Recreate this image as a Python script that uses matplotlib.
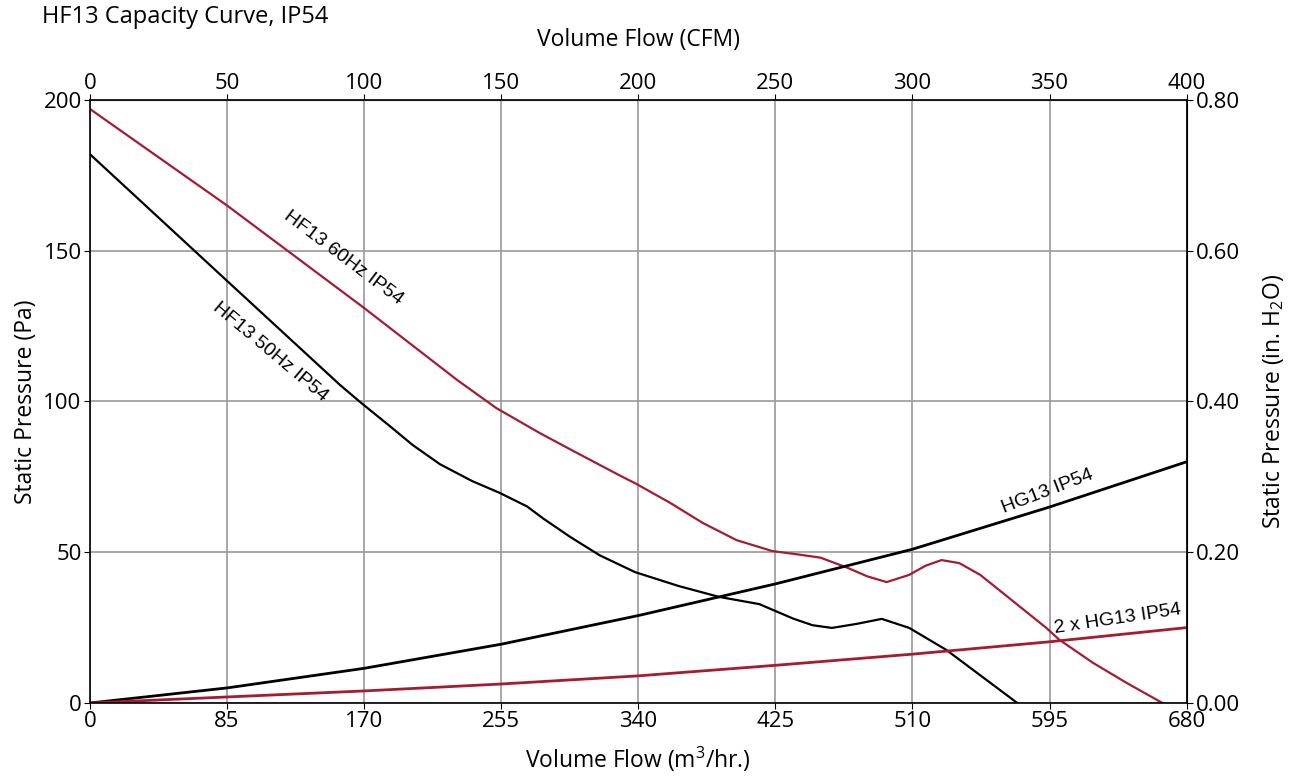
import matplotlib.pyplot as plt
import numpy as np

plt.rcParams['font.family'] = ['Open Sans', 'DejaVu Sans']
plt.rcParams['mathtext.fontset'] = 'custom'
plt.rcParams['mathtext.rm'] = 'Open Sans'
plt.rcParams['mathtext.it'] = 'Open Sans'

# volume flow (m3/hr) vs static pressure (Pa)
hz60_x = [0, 85, 170, 228, 252, 279, 300, 328, 339, 360, 380, 401, 423, 440, 453, 469, 482, 494, 508, 518, 528, 539, 552, 566, 593, 601, 622, 643, 665]
hz60_y = [197, 165, 131, 107, 97.8, 89.5, 83.5, 75.6, 72.6, 66.3, 59.7, 54, 50.4, 49.2, 48.2, 45, 42, 40.1, 42.5, 45.5, 47.4, 46.4, 42.5, 36.5, 24.9, 21, 13.3, 6.6, 0]

hz50_x = [0, 85, 155, 168, 186, 200, 217, 237, 254, 271, 281, 298, 316, 338, 365, 390, 415, 436, 448, 460, 475, 491, 508, 531, 553, 575]
hz50_y = [182, 140, 105.5, 99.6, 91.8, 85.6, 79.2, 73.6, 69.7, 65.2, 61.2, 55, 49, 43.4, 38.8, 35.2, 32.8, 28, 25.8, 24.9, 26.2, 27.9, 24.9, 17.6, 8.8, 0]

sys_x = [0, 85, 170, 255, 340, 425, 510, 595, 680]
hg13_y = [0, 5, 11.5, 19.5, 29, 39.5, 51, 65, 80]
hg13x2_y = [0, 2, 4, 6.3, 9, 12.5, 16.2, 20.3, 25]

xticks = [0, 85, 170, 255, 340, 425, 510, 595, 680]
yticks = [0, 50, 100, 150, 200]
cfm_ticks = [0, 50, 100, 150, 200, 250, 300, 350, 400]
inh2o_ticks = [0.0, 0.2, 0.4, 0.6, 0.8]

red = '#A51C30'

fig = plt.figure(figsize=(13.04, 7.78), dpi=100)
ax = fig.add_axes([0.069, 0.0964, 0.841, 0.7751])

ax.plot(hz60_x, hz60_y, color=red, lw=1.6, solid_joinstyle='round')
ax.plot(hz50_x, hz50_y, color='black', lw=1.6, solid_joinstyle='round')
ax.plot(sys_x, hg13_y, color='black', lw=2)
ax.plot(sys_x, hg13x2_y, color=red, lw=2)

ax.set_xlim(0, 680)
ax.set_ylim(0, 200)
ax.set_xticks(xticks)
ax.set_yticks(yticks)
ax.grid(True, color='#9a9a9a', lw=1.2)
ax.set_axisbelow(True)
ax.tick_params(direction='out', length=4, labelsize=16, colors='black', pad=2)
for s in ax.spines.values():
    s.set_color('black')
    s.set_linewidth(1.2)

ax.set_xlabel('Volume Flow (m$^3$/hr.)', fontsize=16.5, labelpad=9)
ax.set_ylabel('Static Pressure (Pa)', fontsize=16.5, labelpad=4)

top = ax.secondary_xaxis('top', functions=(lambda v: v / 1.7, lambda v: v * 1.7))
top.set_xticks(cfm_ticks)
top.tick_params(direction='out', length=4, labelsize=16, pad=0)
top.set_xlabel('Volume Flow (CFM)', fontsize=16.5, labelpad=20)

right = ax.secondary_yaxis('right', functions=(lambda v: v / 250, lambda v: v * 250))
right.set_yticks(inh2o_ticks)
right.set_yticklabels(['%.2f' % t for t in inh2o_ticks])
right.tick_params(direction='out', length=4, labelsize=16, pad=3)
right.set_ylabel('Static Pressure (in. H$_2$O)', fontsize=16.5, labelpad=15)

lab = dict(fontsize=14, family='Liberation Sans', ha='center', va='center', rotation_mode='anchor')
ax.text(157, 147.5, 'HF13 60Hz IP54', rotation=-37, **lab)
ax.text(112, 116.5, 'HF13 50Hz IP54', rotation=-40, **lab)
ax.text(594, 70, 'HG13 IP54', rotation=21, **lab)
ax.text(637, 27.8, '2 x HG13 IP54', rotation=8.5, **lab)

fig.text(0.032, 0.978, 'HF13 Capacity Curve, IP54', fontsize=17, ha='left', va='center')

fig.savefig('out.png', dpi=100)
